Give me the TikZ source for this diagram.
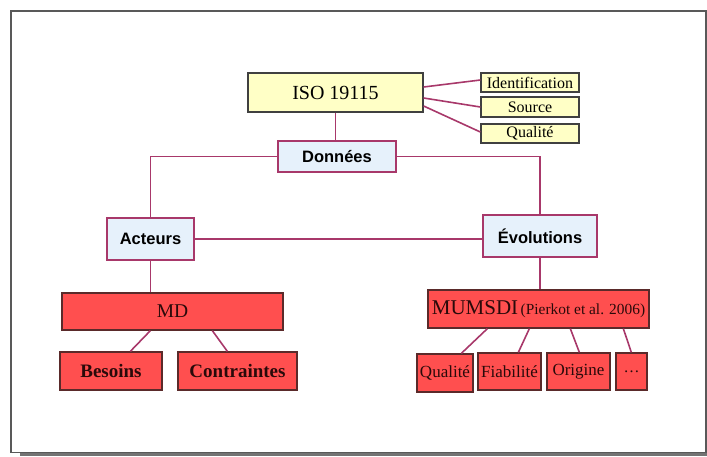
\documentclass[tikz,border=0pt]{standalone}
\usepackage{fontspec}
\setmainfont{Liberation Serif}
\newfontfamily\arialb{Liberation Sans}
\usetikzlibrary{calc}
\definecolor{lnk}{HTML}{A8386A}
\definecolor{yfill}{HTML}{FFFFC6}
\definecolor{bfill}{HTML}{E6F1FB}
\definecolor{rfill}{HTML}{FF4F4F}
\definecolor{rdraw}{HTML}{5A2A2A}
\definecolor{rtext}{HTML}{2A0A0A}
\tikzset{
  ybox/.style={draw=black!75, line width=1.3pt, fill=yfill, inner sep=0pt, anchor=center},
  bbox/.style={draw=lnk, line width=1.3pt, fill=bfill, inner sep=0pt, font=\arialb\bfseries\fontsize{16.5}{18}\selectfont},
  rbox/.style={draw=rdraw, line width=1.3pt, fill=rfill, inner sep=0pt, text=rtext},
  lnkline/.style={draw=lnk, line width=1.6pt},
  frameline/.style={draw=black!65, line width=1.2pt}
}
\begin{document}
\begin{tikzpicture}[x=1pt,y=-1pt]
\useasboundingbox (0,0) rectangle (707,456);
% page frame with shadow
\fill[black!55] (20,452.5) rectangle (707,456);
\draw[frameline] (11,11) rectangle (706,452.5);

% nodes
\node[ybox, minimum width=175pt, minimum height=39pt, font=\fontsize{20}{22}\selectfont] (iso) at (335.5,92.5) {ISO 19115};
\node[ybox, minimum width=98pt, minimum height=19pt, font=\fontsize{16}{17}\selectfont] (ident) at (530,82.5) {Identification};
\node[ybox, minimum width=98pt, minimum height=20pt, font=\fontsize{16}{17}\selectfont] (src) at (530,107) {Source};
\node[ybox, minimum width=98pt, minimum height=19pt, font=\fontsize{16}{17}\selectfont] (qual) at (530,133.5) {Qualité};

\node[bbox, minimum width=118pt, minimum height=31pt] (don) at (337,156.5) {Données};
\node[bbox, minimum width=87pt, minimum height=42pt] (act) at (150.5,239) {Acteurs};
\node[bbox, minimum width=114pt, minimum height=42pt] (evo) at (540,236) {Évolutions};

\node[rbox, minimum width=221pt, minimum height=37pt, font=\fontsize{19.5}{21}\selectfont] (md) at (172.5,311.5) {MD};
\node[rbox, minimum width=102pt, minimum height=38pt, font=\bfseries\fontsize{19}{21}\selectfont] (bes) at (111,371) {Besoins};
\node[rbox, minimum width=119pt, minimum height=38pt, font=\bfseries\fontsize{19}{21}\selectfont] (con) at (237.5,371) {Contraintes};

\node[rbox, minimum width=221pt, minimum height=38pt] (mum) at (538.5,309) {{\fontsize{21}{23}\selectfont MUMSDI} {\fontsize{15.4}{17}\selectfont(Pierkot et al. 2006)}};
\node[rbox, minimum width=56pt, minimum height=38pt, font=\fontsize{17}{19}\selectfont] (q2) at (445,373) {Qualité};
\node[rbox, minimum width=63pt, minimum height=37pt, font=\fontsize{17}{19}\selectfont] (fia) at (509.5,371.5) {Fiabilité};
\node[rbox, minimum width=63pt, minimum height=37pt, font=\fontsize{17}{19}\selectfont] (ori) at (578.5,371.5) {Origine};
\node[rbox, minimum width=31pt, minimum height=37pt, font=\fontsize{16}{18}\selectfont] (dots) at (631.5,371.5) {\dots};

% connectors
\draw[lnkline] ($(iso.east)+(0,-5.5)$) -- ($(ident.west)+(0,-2.5)$);
\draw[lnkline] ($(iso.east)+(0,5.5)$) -- (src.west);
\draw[lnkline] ($(iso.east)+(0,13.5)$) -- ($(qual.west)+(0,-1.5)$);
\draw[lnkline] (iso.south) -- (iso.south |- don.north);
\draw[lnkline] (don.west) -| (act.north);
\draw[lnkline] (don.east) -| (evo.north);
\draw[lnkline] (act.east) -- (act.east -| evo.west);
\draw[lnkline] (act.south) -- (act.south |- md.north);
\draw[lnkline] (evo.south) -- (evo.south |- mum.north);
\draw[lnkline] ($(md.south west)+(89,0)$) -- ($(bes.north west)+(71,0)$);
\draw[lnkline] ($(md.south west)+(151,0)$) -- ($(con.north west)+(50,0)$);
\draw[lnkline] ($(mum.south west)+(60,0)$) -- ($(q2.north west)+(45,0)$);
\draw[lnkline] ($(mum.south west)+(102,0)$) -- ($(fia.north west)+(41,0)$);
\draw[lnkline] ($(mum.south west)+(143,0)$) -- ($(ori.north west)+(33,0)$);
\draw[lnkline] ($(mum.south west)+(196,0)$) -- ($(dots.north west)+(16,0)$);
\end{tikzpicture}
\end{document}
